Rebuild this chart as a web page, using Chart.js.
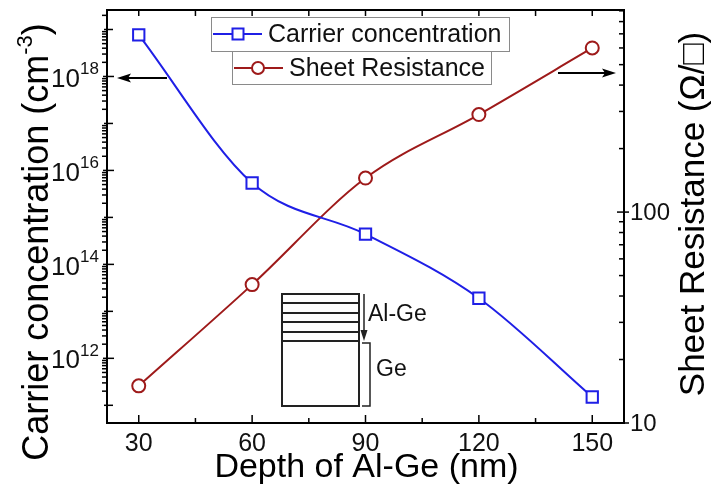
<!DOCTYPE html>
<html>
<head>
<meta charset="UTF-8">
<script src="https://cdn.jsdelivr.net/npm/chart.js"></script>
<style>
    html, body { margin: 0; padding: 0; background: #ffffff; }
    #wrap { width: 711px; height: 493px; position: relative; }
</style>
</head>
<body>
<div id="wrap"><canvas id="chart" width="711" height="493"></canvas></div>
<script>
// data
const depth = [30, 60, 90, 120, 150];
const carrierConc = [7.7e18, 5.4e15, 4.4e14, 1.9e13, 1.5e11];
const sheetRes = [15.0, 45.3, 145, 290, 600];
const xTicks = [30, 60, 90, 120, 150];
const leftDecades = [11, 12, 13, 14, 15, 16, 17, 18, 19];
const leftLabelled = [12, 14, 16, 18];
const rightDecades = [10, 100];

const blue = '#1f1fe6';
const red = '#9e1a1a';
const font = '"Liberation Sans", Arial, sans-serif';

const toPts = (xs, ys) => xs.map((x, i) => ({ x: x, y: ys[i] }));

function line(ctx, x1, y1, x2, y2) {
    ctx.beginPath();
    ctx.moveTo(x1, y1);
    ctx.lineTo(x2, y2);
    ctx.stroke();
}

function arrow(ctx, x1, x2, y) {
    // horizontal arrow from x1 to tip x2
    const dir = x2 > x1 ? 1 : -1;
    ctx.strokeStyle = '#000';
    ctx.fillStyle = '#000';
    ctx.lineWidth = 2;
    line(ctx, x1, y, x2 - dir * 8, y);
    ctx.beginPath();
    ctx.moveTo(x2, y);
    ctx.lineTo(x2 - dir * 14, y - 4.5);
    ctx.lineTo(x2 - dir * 11, y);
    ctx.lineTo(x2 - dir * 14, y + 4.5);
    ctx.closePath();
    ctx.fill();
}

const decor = {
    id: 'decor',
    afterDraw(chart) {
        const ctx = chart.ctx;
        const a = chart.chartArea;
        const sx = chart.scales.x, sl = chart.scales.yL, sr = chart.scales.yR;
        ctx.save();

        // frame
        ctx.strokeStyle = '#000';
        ctx.lineWidth = 2;
        ctx.strokeRect(a.left, a.top, a.right - a.left, a.bottom - a.top);

        // x ticks (bottom inward, top inward)
        ctx.lineWidth = 1.5;
        for (let v = 30; v <= 150; v += 15) {
            const px = sx.getPixelForValue(v);
            const major = xTicks.includes(v);
            const len = major ? 8 : 5;
            line(ctx, px, a.bottom, px, a.bottom - len);
            line(ctx, px, a.top, px, a.top + 6);
        }

        // left log ticks
        for (const d of leftDecades) {
            for (let m = 1; m <= 9; m++) {
                const v = m * Math.pow(10, d);
                if (v < sl.min || v > sl.max) continue;
                const py = sl.getPixelForValue(v);
                if (m === 1) {
                    const lab = leftLabelled.includes(d);
                    line(ctx, a.left - (lab ? 4 : 3), py, a.left + (lab ? 7 : 6), py);
                } else {
                    line(ctx, a.left - 5, py, a.left, py);
                }
            }
        }

        // right log ticks
        for (const d of rightDecades) {
            for (let m = 1; m <= 9; m++) {
                const v = m * d;
                if (v < sr.min || v > sr.max) continue;
                const py = sr.getPixelForValue(v);
                if (m === 1) line(ctx, a.right - 7, py, a.right + 5, py);
                else line(ctx, a.right - 5, py, a.right, py);
            }
        }

        // tick labels
        ctx.fillStyle = '#111';
        ctx.textBaseline = 'middle';
        ctx.font = '25px ' + font;
        ctx.textAlign = 'center';
        for (const v of xTicks) {
            ctx.fillText(String(v), sx.getPixelForValue(v), a.bottom + 21);
        }
        ctx.font = '24px ' + font;
        ctx.textAlign = 'left';
        for (const v of rightDecades) {
            ctx.fillText(String(v), a.right + 6, sr.getPixelForValue(v) + 1);
        }
        for (const d of leftLabelled) {
            const py = sl.getPixelForValue(Math.pow(10, d));
            ctx.font = '26px ' + font;
            ctx.textAlign = 'right';
            ctx.fillText('10', 80, py + 3);
            ctx.font = '17px ' + font;
            ctx.textAlign = 'left';
            ctx.fillText(String(d), 80, py - 7);
        }

        // axis titles
        ctx.fillStyle = '#000';
        ctx.font = '34px ' + font;
        ctx.textAlign = 'center';
        ctx.fillText('Depth of Al-Ge (nm)', (a.left + a.right) / 2 + 1, 468);

        ctx.save();
        ctx.translate(38, 242);
        ctx.rotate(-Math.PI / 2);
        ctx.font = '36px ' + font;
        const t1 = 'Carrier concentration (cm';
        const w1 = ctx.measureText(t1).width;
        ctx.font = '22px ' + font;
        const w2 = ctx.measureText('-3').width;
        ctx.font = '36px ' + font;
        const w3 = ctx.measureText(')').width;
        let x0 = -(w1 + w2 + w3) / 2;
        ctx.textAlign = 'left';
        ctx.fillText(t1, x0, 0);
        ctx.font = '22px ' + font;
        ctx.fillText('-3', x0 + w1, -12);
        ctx.font = '36px ' + font;
        ctx.fillText(')', x0 + w1 + w2, 0);
        ctx.restore();

        ctx.save();
        ctx.translate(694, 214);
        ctx.rotate(-Math.PI / 2);
        ctx.font = '35px ' + font;
        ctx.textAlign = 'center';
        ctx.fillText('Sheet Resistance (\u03A9/\u25A1)', 0, 0);
        ctx.restore();

        // arrows pointing to the axes
        arrow(ctx, 167, a.left + 10, 78);
        arrow(ctx, 558, a.right - 8, 73);

        // legend boxes
        ctx.lineWidth = 1;
        ctx.strokeStyle = '#8a8a8a';
        ctx.fillStyle = '#fff';
        ctx.fillRect(211, 17, 298, 34);
        ctx.strokeRect(211.5, 17.5, 298, 34);
        ctx.fillRect(232, 51, 259, 33);
        ctx.strokeRect(232.5, 51.5, 259, 33);
        ctx.lineWidth = 2;
        ctx.strokeStyle = blue;
        line(ctx, 213, 34, 262, 34);
        ctx.fillStyle = '#fff';
        ctx.fillRect(232.5, 28.5, 11, 11);
        ctx.strokeRect(232.5, 28.5, 11, 11);
        ctx.strokeStyle = red;
        line(ctx, 234, 68, 283, 68);
        ctx.beginPath();
        ctx.arc(258, 68, 6, 0, Math.PI * 2);
        ctx.fill();
        ctx.stroke();
        ctx.fillStyle = '#111';
        ctx.font = '25px ' + font;
        ctx.textAlign = 'left';
        ctx.fillText('Carrier concentration', 268, 35);
        ctx.fillText('Sheet Resistance', 289, 69);

        // inset sketch of the layers
        ctx.strokeStyle = '#222';
        ctx.lineWidth = 2;
        ctx.strokeRect(282, 294, 77, 112);
        for (const y of [303, 313, 322, 332, 341]) line(ctx, 282, y, 359, y);
        ctx.lineWidth = 1.5;
        line(ctx, 364, 294, 364, 332);
        ctx.fillStyle = '#222';
        ctx.beginPath();
        ctx.moveTo(364, 341);
        ctx.lineTo(360.5, 330);
        ctx.lineTo(367.5, 330);
        ctx.closePath();
        ctx.fill();
        ctx.beginPath();
        ctx.moveTo(362, 343);
        ctx.lineTo(370, 343);
        ctx.lineTo(370, 406);
        ctx.lineTo(362, 406);
        ctx.stroke();
        ctx.fillStyle = '#111';
        ctx.font = '23px ' + font;
        ctx.fillText('Al-Ge', 368, 315);
        ctx.fillText('Ge', 376, 370);

        ctx.restore();
    }
};

new Chart(document.getElementById('chart'), {
    type: 'line',
    data: {
        datasets: [
            {
                label: 'Carrier concentration',
                data: toPts(depth, carrierConc),
                yAxisID: 'yL',
                borderColor: blue,
                borderWidth: 2,
                pointStyle: 'rect',
                pointRadius: 8,
                pointBorderWidth: 2,
                pointBorderColor: blue,
                pointBackgroundColor: '#fff',
                cubicInterpolationMode: 'monotone',
                fill: false
            },
            {
                label: 'Sheet Resistance',
                data: toPts(depth, sheetRes),
                yAxisID: 'yR',
                borderColor: red,
                borderWidth: 2,
                pointStyle: 'circle',
                pointRadius: 6.5,
                pointBorderWidth: 2,
                pointBorderColor: red,
                pointBackgroundColor: '#fff',
                cubicInterpolationMode: 'monotone',
                fill: false
            }
        ]
    },
    options: {
        animation: false,
        responsive: false,
        layout: { padding: { top: 8, left: 0, right: 0, bottom: 0 } },
        plugins: { legend: { display: false }, tooltip: { enabled: false } },
        scales: {
            x: {
                type: 'linear', min: 21.6, max: 158.4,
                grid: { display: false }, border: { display: false },
                ticks: { display: false },
                afterFit: s => { s.height = 70; }
            },
            yL: {
                type: 'logarithmic', position: 'left', min: 4.2e10, max: 2.6e19,
                grid: { display: false }, border: { display: false },
                ticks: { display: false },
                afterFit: s => { s.width = 107; }
            },
            yR: {
                type: 'logarithmic', position: 'right', min: 10, max: 908,
                grid: { display: false }, border: { display: false },
                ticks: { display: false },
                afterFit: s => { s.width = 87; }
            }
        }
    },
    plugins: [decor]
});
</script>
</body>
</html>
